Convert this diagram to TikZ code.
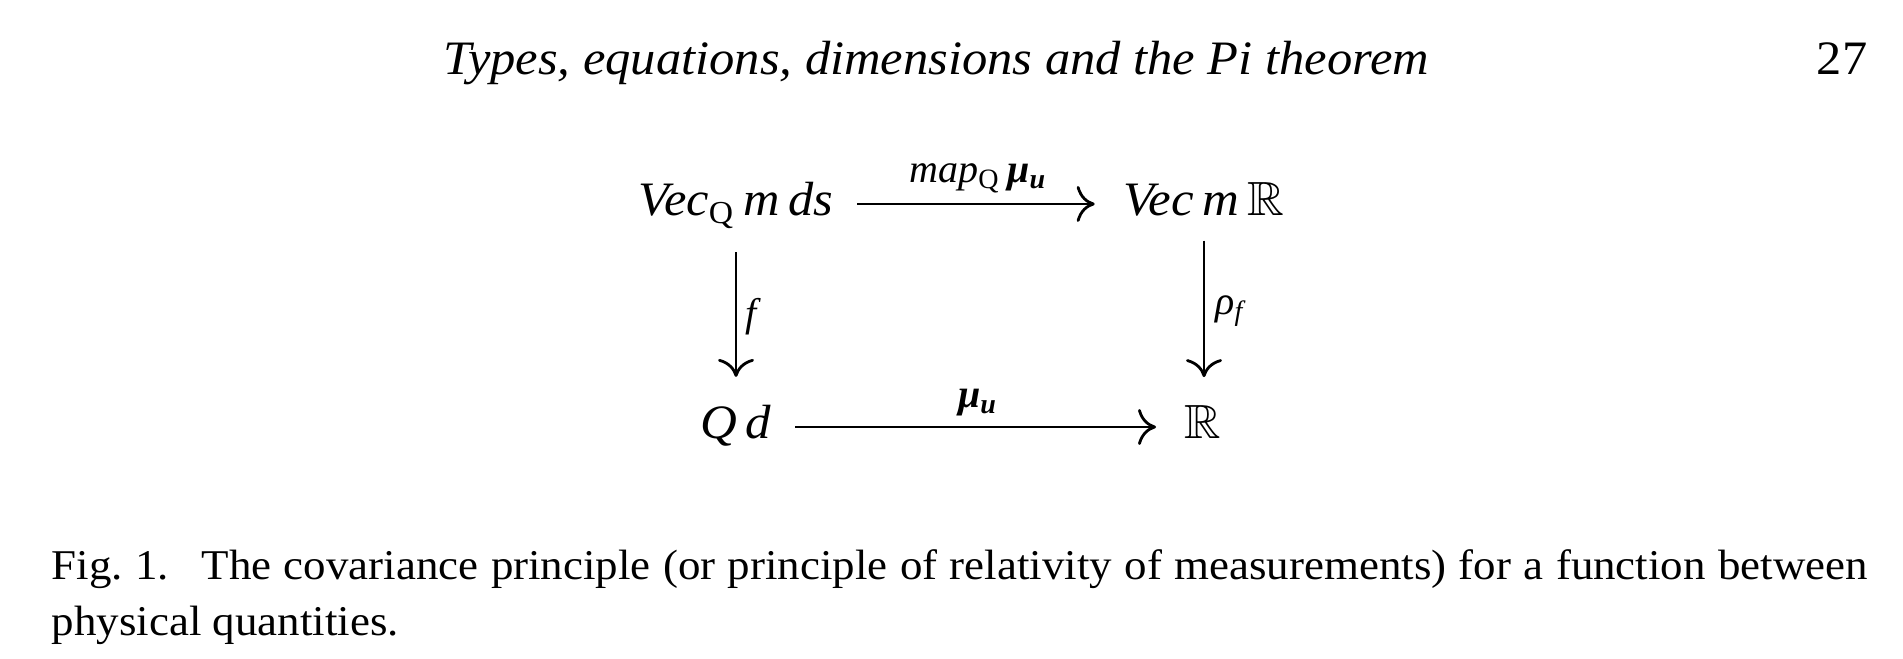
\documentclass[tikz,border=0pt]{standalone}
\usepackage{amssymb}
\usepackage{graphicx}
\usepackage{fontspec}
\setmainfont{Liberation Serif}
\usetikzlibrary{arrows.meta}
\newcommand{\hwide}[2]{\scalebox{#1}[1]{#2}}
\begin{document}
\begin{tikzpicture}[x=0.25pt,y=-0.25pt,
  obj/.style={inner sep=0pt, outer sep=6pt, anchor=base, font=\fontsize{12}{14}\selectfont},
  lab/.style={inner sep=0pt, font=\fontsize{10}{12}\selectfont},
  txt/.style={inner sep=0pt, anchor=base west, font=\fontsize{10.6}{12}\selectfont},
  arr/.style={-{Computer Modern Rightarrow[length=4.5pt,width=9pt]}, line width=0.7pt, shorten >=1.2pt}]
\useasboundingbox (0,0) rectangle (1903,659);
\node[txt, font=\fontsize{12}{14}\selectfont\itshape] (head) at (443,75) {\hwide{1.053}{Types, equations, dimensions and the Pi theorem}};
\node[txt, anchor=base east, font=\fontsize{12}{14}\selectfont] (page) at (1868,75) {\hwide{1.05}{27}};
% diagram
\node[obj] (A) at (736,216) {\hwide{1.05}{\textit{Vec}\textsubscript{Q}\,\textit{m}\,\textit{ds}}};
\node[obj] (B) at (1204,216) {\hwide{1.06}{\textit{Vec}\,\textit{m}\,$\mathbb{R}$}};
\node[obj] (C) at (736,439) {\hwide{1.06}{\textit{Q}\,\textit{d}}};
\node[obj] (D) at (1203,439) {\hwide{1.05}{$\mathbb{R}$}};
\draw[arr] ([yshift=3pt]A.base east) -- ([yshift=3pt]B.base west)
  node[lab, midway, anchor=south, yshift=2.5pt] (l1) {\textit{map}\textsubscript{Q}\,\textbf{\textit{μ\textsubscript{u}}}};
\draw[arr] ([yshift=3pt]C.base east) -- ([yshift=3pt]D.base west)
  node[lab, midway, anchor=south, yshift=2.5pt] (l2) {\textbf{\textit{μ\textsubscript{u}}}};
\draw[arr] (A.south) -- (A.south |- C.north)
  node[lab, midway, anchor=west, xshift=2pt] (l3) {\textit{f}};
\draw[arr] (B.south) -- (B.south |- D.north)
  node[lab, midway, anchor=west, xshift=2.5pt] (l4) {\textit{ρ\textsubscript{f}}};
% caption
\node[txt] (cap1) at (51,580) {\hwide{1.06}{\frenchspacing\hbox to 428.3pt{Fig.\ 1.\hspace{7.7pt}The covariance principle (or principle of relativity of measurements) for a function between}}};
\node[txt] (cap2) at (51,636) {\hwide{1.06}{physical quantities.}};
\end{tikzpicture}
\end{document}
